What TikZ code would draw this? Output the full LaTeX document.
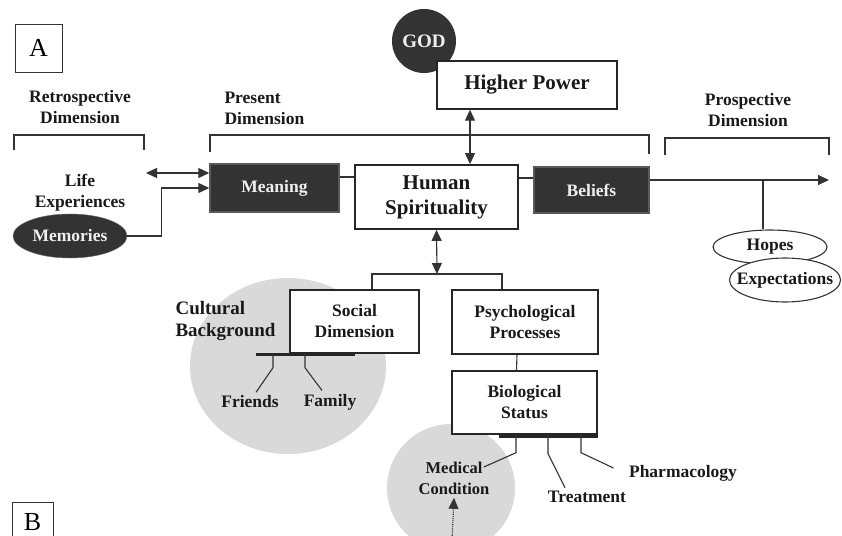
\documentclass[tikz,border=0pt]{standalone}
\usepackage{fontspec}
\setmainfont{Liberation Serif}
\usetikzlibrary{arrows.meta}
\usetikzlibrary{positioning}
\usetikzlibrary{shapes.geometric}

\begin{document}
\begin{tikzpicture}[x=1pt,y=-1pt,
			box/.style={draw=black!85, line width=1.4pt, fill=white, align=center, text=black!90, font=\bfseries\fontsize{17.5}{21}\selectfont},
			darkbox/.style={box, fill=black!80, draw=black!65, text=black!6},
			txt/.style={align=center, text=black!90, font=\bfseries\fontsize{17.5}{21}\selectfont},
			big/.style={font=\bfseries\fontsize{21}{25}\selectfont},
			line/.style={draw=black!80, line width=1.1pt},
			arr/.style={line, -{Triangle[length=11pt,width=10pt]}},
			dbl/.style={line, {Triangle[length=11pt,width=10pt]}-{Triangle[length=11pt,width=10pt]}},
			thickbar/.style={draw=black!85, line width=3pt},
			blob/.style={fill=black!15, draw=none},
			panel/.style={draw=black!80, line width=0.9pt, minimum width=47pt, minimum height=48pt, font=\fontsize{26}{28}\selectfont}]
			\useasboundingbox (0,0) rectangle (842,535);
			\clip (0,0) rectangle (842,535);
			% grey backgrounds
			\path[blob] (288,366) ellipse [x radius=98, y radius=88];
			\path[blob] (451,488) circle (64);
			% dimension brackets
			\draw[line] (14,150) -- (14,135) -- (144,135) -- (144,150);
			\draw[line] (210,152) -- (210,135) -- (649,135) -- (649,154);
			\draw[line] (665,155) -- (665,138) -- (829,138) -- (829,155);
			
			% panels
			\node[panel] (panelA) at (38.5,48) {A};
			\node[panel, minimum width=41pt, minimum height=40pt] (panelB) at (32.5,522) {B};
			% dimension labels
			\node[txt] (retro) at (80,107) {Retrospective\\Dimension};
			\node[txt, anchor=west, align=left] (present) at (221,108) {Present\\Dimension};
			\node[txt] (prosp) at (748,110) {Prospective\\Dimension};
			
			% main row
			\node[circle, fill=black!80, minimum size=64pt, inner sep=0pt, text=black!6, font=\bfseries\fontsize{19}{20}\selectfont] (god) at (424,41) {GOD};
			\node[box, big, minimum width=180pt, minimum height=48pt] (higher) at (527,85) {Higher Power};
			\node[darkbox, minimum width=129pt, minimum height=48pt] (meaning) at (274.5,188) {Meaning};
			\node[box, big, line width=1.8pt, minimum width=163pt, minimum height=64pt] (human) at (436.5,197) {Human\\Spirituality};
			\node[darkbox, minimum width=115pt, minimum height=46pt] (beliefs) at (591.5,190) {Beliefs};
			% past
			\node[txt] (life) at (80,193) {Life\\Experiences};
			\node[txt, ellipse, fill=black!80, draw=black!60, text=black!6, inner sep=1pt, minimum width=114pt, minimum height=44pt] (memories) at (70,236) {Memories};
			\coordinate (past) at (146,173);
			% future
			\coordinate (future) at (829,180);
			\node[txt, ellipse, draw=black!80, line width=1.1pt, fill=white, inner sep=1pt, minimum width=114pt, minimum height=34pt] (hopes) at (770,247) {Hopes};
			\node[txt, ellipse, draw=black!80, line width=1.1pt, fill=white, inner xsep=-14pt, minimum width=111pt, minimum height=44pt] (expect) at (785,280) {Expectations};
			\path (hopes.north) ++(-7,0) coordinate (hopetop);
			
			% lower part
			\coordinate (split) at (437,274);
			\node[box, minimum width=129pt, minimum height=63pt] (social) at (354.5,321.5) {Social\\Dimension};
			\node[box, minimum width=146pt, minimum height=64pt] (psych) at (525,322) {Psychological\\Processes};
			\node[box, minimum width=145pt, minimum height=63pt] (bio) at (524.5,402.5) {Biological\\Status};
			\node[txt, anchor=west, align=left, font=\bfseries\fontsize{19}{22}\selectfont] (cultural) at (172,321) {Cultural\\Background};
			\node[txt] (friends) at (250,402) {Friends};
			\node[txt] (family) at (330,402) {Family};
			\node[txt, font=\bfseries\fontsize{16.5}{21}\selectfont] (medical) at (454,478) {Medical\\Condition};
			\node[txt] (treatment) at (587,497) {Treatment};
			\node[txt] (pharma) at (683,473) {Pharmacology};
			\coordinate (cause) at (452,540);
			
			% connectors
			\draw[dbl] (past) -- ([yshift=15pt]meaning.west);
			\draw[arr] (memories.east) -- ++(34,0) |- (meaning.west);
			\draw[line] ([yshift=11pt]meaning.east) -- ([yshift=20pt]human.west);
			\draw[line] ([yshift=19pt]human.east) -- ([yshift=12pt]beliefs.west);
			\draw[arr] ([yshift=10pt]beliefs.east) -- (future);
			\draw[line] (hopetop) -- (hopetop |- future);
			\draw[dbl] ([xshift=-57pt]higher.south) -- ([xshift=33.5pt]human.north);
			\draw[dbl] (human.south) -- (split);
			\draw[line] ([xshift=17.5pt]social.north) |- (split) -| ([xshift=-23pt]psych.north);
			\draw[line] ([xshift=-8pt]psych.south) -- ([xshift=-8pt]bio.north);
			% branches
			\draw[thickbar] ([xshift=-98.5pt,yshift=-1pt]social.south) -- ([yshift=-1pt]social.south);
			\draw[line] ([xshift=-81.5pt]social.south) -- ++(0,14) -- ([xshift=6pt]friends.north);
			\draw[line] ([xshift=-49.5pt]social.south) -- ++(0,14) -- ([xshift=-8pt]family.north);
			\draw[thickbar] ([xshift=-25.5pt,yshift=-2pt]bio.south) -- ([yshift=-2pt]bio.south east);
			\draw[line] ([xshift=-8.5pt]bio.south) -- ++(0,18) -- ([xshift=-9pt,yshift=11pt]medical.east);
			\draw[line] ([xshift=23.5pt]bio.south) -- ++(0,19) -- ([xshift=-22pt]treatment.north);
			\draw[line] ([xshift=56.5pt]bio.south) -- ++(0,18) -- ([xshift=-12pt,yshift=5pt]pharma.west);
			\draw[arr, densely dotted] (cause) -- (medical.south);
		\end{tikzpicture}
\end{document}
